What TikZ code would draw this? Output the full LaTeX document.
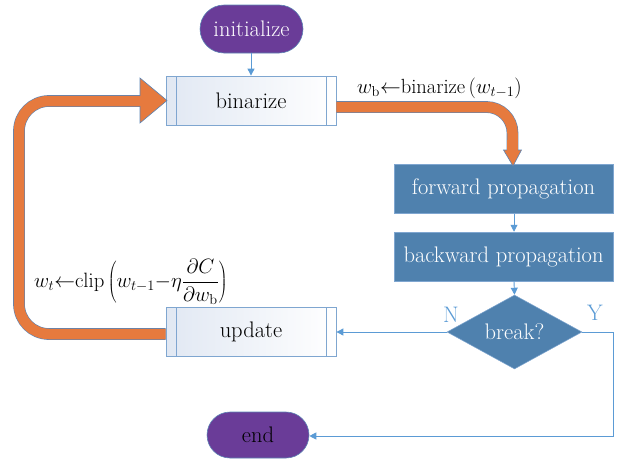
\documentclass[tikz,border=0pt]{standalone}
\usetikzlibrary{shapes.geometric,shapes.misc,arrows.meta}
\definecolor{purp}{HTML}{6A3C98}
\definecolor{steel}{HTML}{4F81AE}
\definecolor{lineb}{HTML}{5B9BD5}
\definecolor{procb}{HTML}{7FA6D0}
\definecolor{procf}{HTML}{E1E8F3}
\definecolor{orng}{HTML}{E67A3E}
\definecolor{obord}{HTML}{5C84B4}
\begin{document}
\begin{tikzpicture}[x=1pt,y=-1pt,
  every node/.style={font=\fontsize{22.5}{26}\selectfont, inner sep=0pt},
  fml/.style={font=\fontsize{20.5}{24}\selectfont},
  term/.style={rounded rectangle, fill=purp, draw=obord, line width=0.6pt},
  proc/.style={draw=procb, line width=0.8pt, left color=procf, right color=white,
    minimum width=170pt, minimum height=49pt,
    path picture={
      \draw[procb,line width=0.8pt] ([xshift=10pt]path picture bounding box.north west) -- ([xshift=10pt]path picture bounding box.south west);
      \draw[procb,line width=0.8pt] ([xshift=-10pt]path picture bounding box.north east) -- ([xshift=-10pt]path picture bounding box.south east);}},
  sbox/.style={fill=steel, draw=procb, line width=0.5pt, text=white, minimum width=219pt, minimum height=49pt},
  flow/.style={lineb, line width=0.9pt, -{Triangle[width=7pt,length=7pt]}},
  band/.style={draw=obord, double=orng, double distance=10.5pt, line width=0.6pt},
]
\useasboundingbox (0,0) rectangle (617,458);

\node[term, minimum width=103pt, minimum height=48pt, text=white] (init) at (251.5,29) {initialize};
\node[proc] (bin) at (251,100.5) {binarize};
\node[proc] (upd) at (251,332) {update};
\node[sbox] (fwd) at (503.5,189) {forward propagation};
\node[sbox] (bwd) at (503.5,256.5) {backward propagation};
\node[diamond, fill=steel, draw=procb, line width=0.5pt, minimum width=135pt, minimum height=74pt, aspect=1.8, text=white, inner sep=0pt] (brk) at (514.5,332) {};
\node[text=white] at (514.5,332) {break?};
\node[term, minimum width=102pt, minimum height=46pt] (end) at (258,435) {end};

% blue flow arrows
\draw[flow] (init.south -| 251,0) -- (bin.north -| 251,0);
\draw[flow] (fwd.south -| 514,0) -- (bwd.north -| 514,0);
\draw[flow] (bwd.south -| 514,0) -- (brk.north);
\draw[flow] (brk.west) -- (upd.east);
\coordinate (c1) at (613,332);
\coordinate (c2) at (613,436);
\draw[flow] (brk.east) -- (c1) -- (c2) -- (end.east |- c2);

\node[text=lineb] (nl) at (451,315) {N};
\node[text=lineb] (yl) at (595,313) {Y};

% orange arrow binarize -> forward
\coordinate (o1) at (512.5,107);
\coordinate (o2) at (512.5,151);
\draw[band, rounded corners=26pt] (bin.east |- o1) -- (o1) -- (o2);
\fill[orng, draw=obord, line width=0.6pt] (503.5,150) -- (521.5,150) -- (513,166) -- cycle;
\draw[orng, line width=10.5pt] (512.5,140) -- (512.5,151.2);

% orange loop update -> binarize
\coordinate (l1) at (19,334);
\coordinate (l2) at (19,101);
\coordinate (l3) at (141,101);
\draw[band, rounded corners=30pt] (upd.west |- l1) -- (l1) -- (l2) -- (l3);
\fill[orng, draw=obord, line width=0.6pt] (140,78) -- (167,100.5) -- (140,123) -- cycle;
\draw[orng, line width=10.5pt] (130,101) -- (141.2,101);

% formulas
\node[fml, anchor=west] (f1) at (357,88) {$w_{\mathrm b}\mathord{\leftarrow}$binarize\,$(w_{t-1})$};
\node[fml, anchor=west] (f2) at (34,282) {$w_t\mathord{\leftarrow}\mathrm{clip}\left(w_{t-1}{-}\eta\displaystyle\frac{\partial C}{\partial w_{\mathrm b}}\right)$};
\end{tikzpicture}
\end{document}
